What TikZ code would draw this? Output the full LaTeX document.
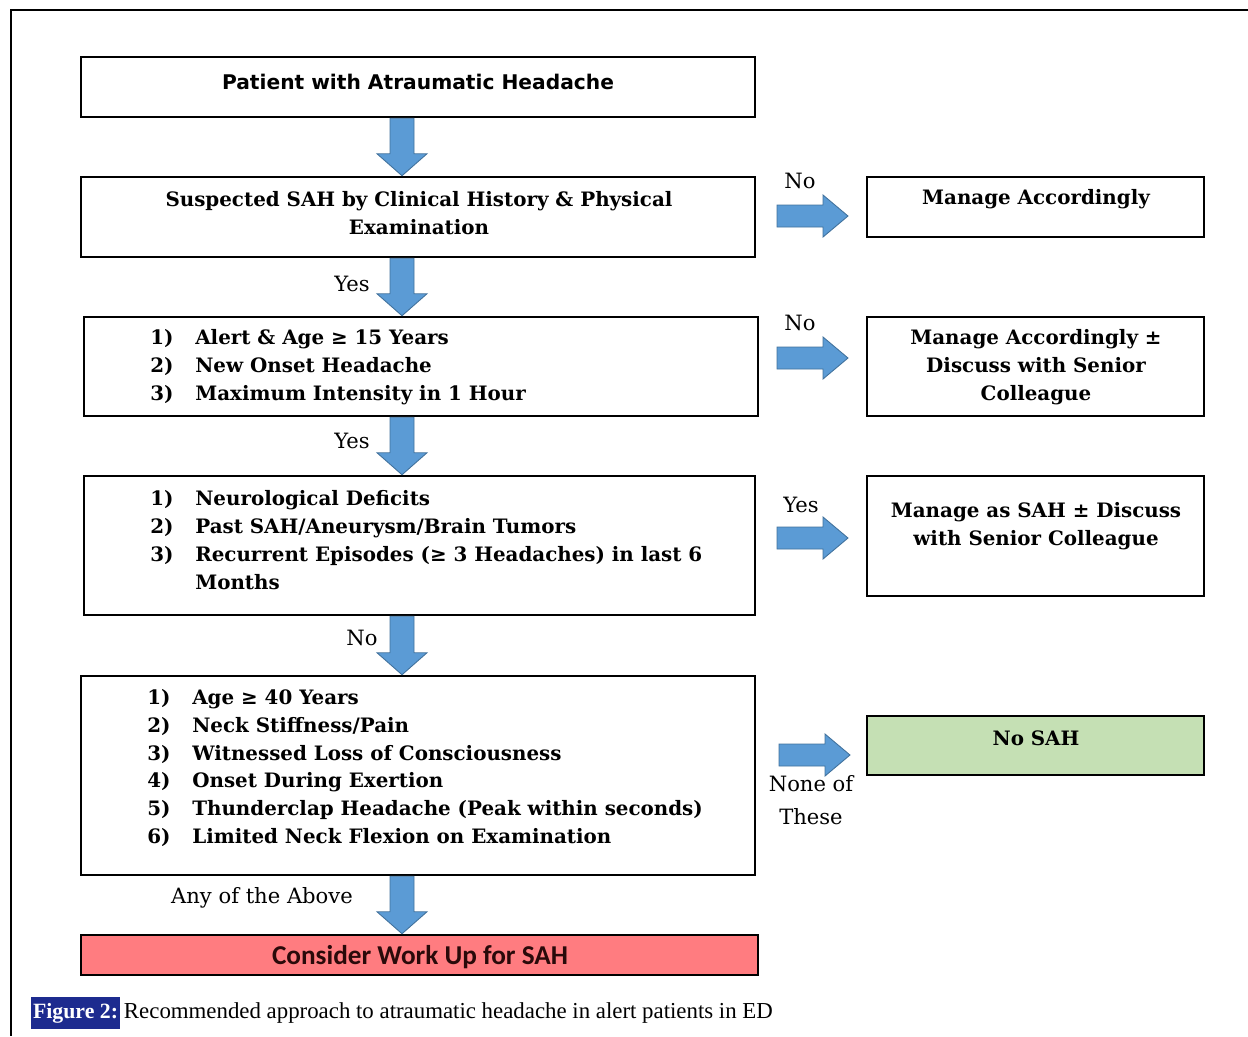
\documentclass[tikz,border=0pt]{standalone}
\usepackage{fontspec}
\setmainfont{DejaVu Serif}
\newfontfamily\headfont{DejaVu Sans}
\newfontfamily\calfont{Carlito}
\newfontfamily\capfont{Liberation Serif}
\usetikzlibrary{fit,calc}
\definecolor{arrowfill}{HTML}{5B9BD5}
\definecolor{arrowline}{HTML}{41719C}
\definecolor{redfill}{HTML}{FF7C80}
\definecolor{greenfill}{HTML}{C5E0B4}
\definecolor{navy}{HTML}{1D2B8F}
\definecolor{darktxt}{HTML}{2A0A0A}
\tikzset{
  box/.style={draw=black, line width=0.05cm, inner sep=0pt},
  boxtxt/.style={font=\fontsize{11.3}{15.9}\selectfont\bfseries, align=center, inner sep=0pt},
  listtxt/.style={font=\fontsize{11.3}{15.9}\selectfont\bfseries, align=left, inner sep=0pt},
  lbl/.style={font=\fontsize{12}{17}\selectfont, align=center, inner sep=0pt},
  darrow/.style={draw=arrowline, fill=arrowfill, line width=0.5pt,
    to path={let \p1=(\tikztostart), \p2=(\tikztotarget) in
      (\x1-0.24cm,\y1) -- (\x1+0.24cm,\y1) -- (\x1+0.24cm,\y2+0.44cm) --
      (\x1+0.5cm,\y2+0.44cm) -- (\x1,\y2) -- (\x1-0.5cm,\y2+0.44cm) --
      (\x1-0.24cm,\y2+0.44cm) -- cycle}},
  rarrow/.style={draw=arrowline, fill=arrowfill, line width=0.5pt,
    to path={let \p1=(\tikztostart), \p2=(\tikztotarget) in
      (\x1,\y1+0.22cm) -- (\x2-0.5cm,\y1+0.22cm) -- (\x2-0.5cm,\y1+0.42cm) --
      (\x2,\y1) -- (\x2-0.5cm,\y1-0.42cm) -- (\x2-0.5cm,\y1-0.22cm) --
      (\x1,\y1-0.22cm) -- cycle}}
}
\begin{document}
\begin{tikzpicture}[x=0.02cm, y=-0.02cm]
\useasboundingbox (0,0) rectangle (1248,1036);
% outer frame
\draw[line width=0.04cm] (1248,10) -- (11,10) -- (11,1036);

% left column boxes
\node[box, fit={(81,57) (755,117)}] (A) {};
\node[box, fit={(81,177) (755,257)}] (B) {};
\node[box, fit={(84,317) (758,416)}] (C) {};
\node[box, fit={(84,476) (755,615)}] (D) {};
\node[box, fit={(81,676) (755,875)}] (E) {};
\node[box, fill=redfill, fit={(81,935) (758,975)}] (F) {};

% right column boxes
\node[box, fit={(867,177) (1204,237)}] (R1) {};
\node[box, fit={(867,317) (1204,416)}] (R2) {};
\node[box, fit={(867,476) (1204,596)}] (R3) {};
\node[box, fill=greenfill, fit={(867,716) (1204,775)}] (R4) {};

% texts
\node[boxtxt, font=\headfont\fontsize{11.5}{15.9}\selectfont\bfseries] (At) at (418,82) {Patient with Atraumatic Headache};
\node[boxtxt] (Bt) at (419,213) {Suspected SAH by Clinical History \& Physical\\Examination};
\node[listtxt, anchor=west] (Ct) at (150,367) {%
\makebox[0.9cm][l]{1)}Alert \& Age ≥ 15 Years\\
\makebox[0.9cm][l]{2)}New Onset Headache\\
\makebox[0.9cm][l]{3)}Maximum Intensity in 1 Hour};
\node[listtxt, anchor=west] (Dt) at (150,540) {%
\makebox[0.9cm][l]{1)}Neurological Deficits\\
\makebox[0.9cm][l]{2)}Past SAH/Aneurysm/Brain Tumors\\
\makebox[0.9cm][l]{3)}Recurrent Episodes (≥ 3 Headaches) in last 6\\
\hspace*{0.9cm}Months};
\node[listtxt, anchor=west] (Et) at (147,768) {%
\makebox[0.9cm][l]{1)}Age ≥ 40 Years\\
\makebox[0.9cm][l]{2)}Neck Stiffness/Pain\\
\makebox[0.9cm][l]{3)}Witnessed Loss of Consciousness\\
\makebox[0.9cm][l]{4)}Onset During Exertion\\
\makebox[0.9cm][l]{5)}Thunderclap Headache (Peak within seconds)\\
\makebox[0.9cm][l]{6)}Limited Neck Flexion on Examination};
\node[boxtxt, text=darktxt, font=\calfont\fontsize{15.5}{15.9}\selectfont\bfseries] (Ft) at (420,957) {Consider Work Up for SAH};

\node[boxtxt] (R1t) at (1036,199) {Manage Accordingly};
\node[boxtxt] (R2t) at (1036,367) {Manage Accordingly ±\\Discuss with Senior\\Colleague};
\node[boxtxt] (R3t) at (1036,526) {Manage as SAH ± Discuss\\with Senior Colleague};
\node[boxtxt] (R4t) at (1036,738) {No SAH};

% labels
\node[lbl] (l1) at (800,181) {No};
\node[lbl] (l2) at (352,284) {Yes};
\node[lbl] (l3) at (800,323) {No};
\node[lbl] (l4) at (352,441) {Yes};
\node[lbl] (l5) at (801,505) {Yes};
\node[lbl] (l6) at (362,638) {No};
\node[lbl, font=\fontsize{12}{19}\selectfont] (l7) at (811,800) {None of\\These};
\node[lbl] (l8) at (262,898) {Any of the Above};

% down arrows
\coordinate (ax) at (402,0);
\draw[darrow] (A.south -| ax) to (B.north -| ax);
\draw[darrow] (B.south -| ax) to (C.north -| ax);
\draw[darrow] (C.south -| ax) to (D.north -| ax);
\draw[darrow] (D.south -| ax) to (E.north -| ax);
\draw[darrow] (E.south -| ax) to (F.north -| ax);

% right arrows
\coordinate (r1s) at (777,216);
\coordinate (r1e) at (848,216);
\coordinate (r2s) at (777,358);
\coordinate (r2e) at (848,358);
\coordinate (r3s) at (777,538);
\coordinate (r3e) at (848,538);
\coordinate (r4s) at (779,755);
\coordinate (r4e) at (850,755);
\draw[rarrow] (r1s) to (r1e);
\draw[rarrow] (r2s) to (r2e);
\draw[rarrow] (r3s) to (r3e);
\draw[rarrow] (r4s) to (r4e);

% caption
\node[fill=navy, text=white, font=\capfont\fontsize{12.4}{15}\selectfont\bfseries,
      anchor=west, inner xsep=1pt, minimum height=0.5cm] (capfig) at (31,1013) {Figure 2:};
\node[font=\capfont\fontsize{13}{15}\selectfont, anchor=west, inner xsep=2pt] (cap) at (capfig.east) {Recommended approach to atraumatic headache in alert patients in ED};
\end{tikzpicture}
\end{document}
